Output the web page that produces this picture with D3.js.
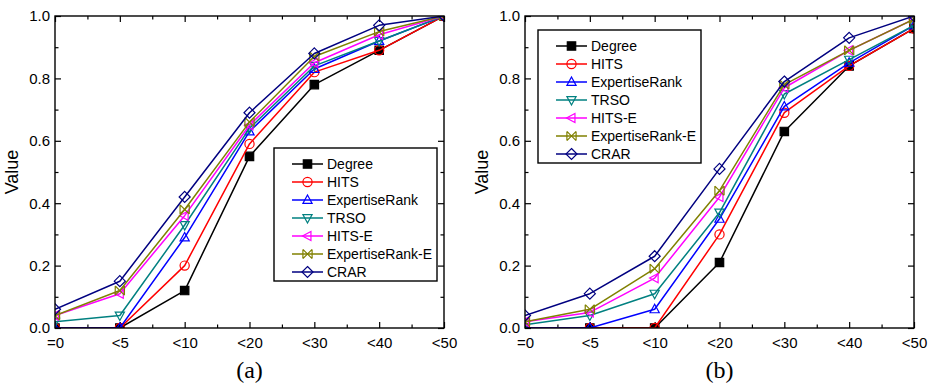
<!DOCTYPE html>
<html>
<head>
<meta charset="utf-8">
<script src="https://cdn.jsdelivr.net/npm/d3@7"></script>
<style>
  html, body { margin: 0; padding: 0; background: #fff; }
  svg { display: block; }
</style>
</head>
<body>
<svg id="chart" width="934" height="385"></svg>
<script>
// ---------- DATA ----------
const categories = ["=0", "<5", "<10", "<20", "<30", "<40", "<50"];
const seriesNames = ["Degree", "HITS", "ExpertiseRank", "TRSO", "HITS-E", "ExpertiseRank-E", "CRAR"];
const seriesColors = ["#000000", "#ff0000", "#0000ff", "#008080", "#ff00ff", "#808000", "#000080"];
const seriesSymbols = ["square", "circle", "triUp", "triDown", "triLeft", "xstar", "diamond"];
const yTicks = [0, 0.2, 0.4, 0.6, 0.8, 1.0];
const panelLabels = ["(a)", "(b)"];

// panel (a)
const aDegree        = [0.00, 0.00, 0.12, 0.55, 0.78, 0.89, 1.00];
const aHITS          = [0.00, 0.00, 0.20, 0.59, 0.82, 0.89, 1.00];
const aExpertiseRank = [0.00, 0.00, 0.29, 0.63, 0.83, 0.92, 1.00];
const aTRSO          = [0.02, 0.04, 0.33, 0.64, 0.84, 0.92, 1.00];
const aHITSE         = [0.04, 0.11, 0.36, 0.65, 0.85, 0.94, 1.00];
const aExpertiseRankE= [0.04, 0.12, 0.38, 0.66, 0.87, 0.95, 1.00];
const aCRAR          = [0.06, 0.15, 0.42, 0.69, 0.88, 0.97, 1.00];

// panel (b)
const bDegree        = [0.00, 0.00, 0.00, 0.21, 0.63, 0.84, 0.96];
const bHITS          = [0.00, 0.00, 0.00, 0.30, 0.69, 0.84, 0.96];
const bExpertiseRank = [0.00, 0.00, 0.06, 0.35, 0.71, 0.85, 0.97];
const bTRSO          = [0.01, 0.04, 0.11, 0.37, 0.75, 0.86, 0.97];
const bHITSE         = [0.02, 0.05, 0.16, 0.42, 0.77, 0.89, 0.99];
const bExpertiseRankE= [0.02, 0.06, 0.19, 0.44, 0.78, 0.89, 0.99];
const bCRAR          = [0.04, 0.11, 0.23, 0.51, 0.79, 0.93, 1.00];

const panelData = [
  [aDegree, aHITS, aExpertiseRank, aTRSO, aHITSE, aExpertiseRankE, aCRAR],
  [bDegree, bHITS, bExpertiseRank, bTRSO, bHITSE, bExpertiseRankE, bCRAR]
];

// ---------- LAYOUT ----------
const panels = [
  { left: 55, right: 444, top: 16, bottom: 328, legend: { x: 274, y: 148, w: 163, h: 133 } },
  { left: 525, right: 914, top: 16, bottom: 328, legend: { x: 538, y: 30, w: 163, h: 133 } }
];

const svg = d3.select("#chart");
const FONT = "Arial, 'Liberation Sans', sans-serif";

function symbolPath(type, r) {
  const p = d3.path();
  switch (type) {
    case "square":
      p.rect(-r, -r, 2 * r, 2 * r); break;
    case "circle":
      p.moveTo(r, 0); p.arc(0, 0, r, 0, 2 * Math.PI); break;
    case "triUp":
      p.moveTo(0, -r * 1.1); p.lineTo(r, r * 0.75); p.lineTo(-r, r * 0.75); p.closePath(); break;
    case "triDown":
      p.moveTo(0, r * 1.1); p.lineTo(r, -r * 0.75); p.lineTo(-r, -r * 0.75); p.closePath(); break;
    case "triLeft":
      p.moveTo(-r * 1.1, 0); p.lineTo(r * 0.75, -r); p.lineTo(r * 0.75, r); p.closePath(); break;
    case "xstar":
      p.moveTo(-r, -r); p.lineTo(r, r); p.moveTo(r, -r); p.lineTo(-r, r);
      p.moveTo(-r, -r); p.lineTo(-r, r); p.moveTo(r, -r); p.lineTo(r, r); break;
    case "diamond":
      p.moveTo(0, -r * 1.2); p.lineTo(r * 1.2, 0); p.lineTo(0, r * 1.2); p.lineTo(-r * 1.2, 0); p.closePath(); break;
  }
  return p.toString();
}

function drawMarker(g, type, color, x, y) {
  const r = 4.6;
  const filled = type === "square";
  g.append("path")
    .attr("transform", `translate(${x},${y})`)
    .attr("d", symbolPath(type, type === "square" ? 4.2 : r))
    .attr("fill", filled ? color : "none")
    .attr("stroke", color)
    .attr("stroke-width", 1.2);
}

panels.forEach((P, pi) => {
  const g = svg.append("g");
  const x = d3.scalePoint().domain(categories).range([P.left, P.right]).padding(0);
  const xi = d3.scaleLinear().domain([0, categories.length - 1]).range([P.left, P.right]);
  const y = d3.scaleLinear().domain([0, 1]).range([P.bottom, P.top]);

  const minorX = d3.range(0.5, categories.length - 1, 1);
  const minorY = d3.range(0.1, 1.0, 0.2);

  // clip
  const clipId = "clip" + pi;
  svg.append("defs").append("clipPath").attr("id", clipId)
    .append("rect").attr("x", P.left).attr("y", P.top)
    .attr("width", P.right - P.left).attr("height", P.bottom - P.top);

  const styleAxis = sel => {
    sel.select(".domain").remove();
    sel.selectAll(".tick line").attr("stroke", "#000").attr("stroke-width", 1.2);
    sel.selectAll("text").attr("font-family", FONT).attr("font-size", 15).attr("fill", "#000");
  };

  // bottom major
  g.append("g").attr("transform", `translate(0,${P.bottom})`)
    .call(d3.axisBottom(x).tickSizeInner(-6).tickSizeOuter(0).tickPadding(9))
    .call(styleAxis);
  // bottom minor
  g.append("g").attr("transform", `translate(0,${P.bottom})`)
    .call(d3.axisBottom(xi).tickValues(minorX).tickSizeInner(-3.5).tickSizeOuter(0).tickFormat(""))
    .call(styleAxis);
  // top major/minor
  g.append("g").attr("transform", `translate(0,${P.top})`)
    .call(d3.axisTop(x).tickSizeInner(-6).tickSizeOuter(0).tickFormat(""))
    .call(styleAxis);
  g.append("g").attr("transform", `translate(0,${P.top})`)
    .call(d3.axisTop(xi).tickValues(minorX).tickSizeInner(-3.5).tickSizeOuter(0).tickFormat(""))
    .call(styleAxis);
  // left
  g.append("g").attr("transform", `translate(${P.left},0)`)
    .call(d3.axisLeft(y).tickValues(yTicks).tickFormat(d3.format(".1f")).tickSizeInner(-6).tickSizeOuter(0).tickPadding(5))
    .call(styleAxis);
  g.append("g").attr("transform", `translate(${P.left},0)`)
    .call(d3.axisLeft(y).tickValues(minorY).tickSizeInner(-3.5).tickSizeOuter(0).tickFormat(""))
    .call(styleAxis);
  // right
  g.append("g").attr("transform", `translate(${P.right},0)`)
    .call(d3.axisRight(y).tickValues(yTicks).tickSizeInner(-6).tickSizeOuter(0).tickFormat(""))
    .call(styleAxis);
  g.append("g").attr("transform", `translate(${P.right},0)`)
    .call(d3.axisRight(y).tickValues(minorY).tickSizeInner(-3.5).tickSizeOuter(0).tickFormat(""))
    .call(styleAxis);

  // series
  const plot = g.append("g").attr("clip-path", `url(#${clipId})`);
  const line = d3.line().x((d, i) => x(categories[i])).y(d => y(d));
  panelData[pi].forEach((vals, si) => {
    plot.append("path").datum(vals)
      .attr("d", line).attr("fill", "none")
      .attr("stroke", seriesColors[si]).attr("stroke-width", 1.5)
      .attr("stroke-linejoin", "round");
    vals.forEach((v, i) => drawMarker(plot, seriesSymbols[si], seriesColors[si], x(categories[i]), y(v)));
  });

  // frame
  g.append("rect").attr("x", P.left).attr("y", P.top)
    .attr("width", P.right - P.left).attr("height", P.bottom - P.top)
    .attr("fill", "none").attr("stroke", "#000").attr("stroke-width", 1.4);

  // y label
  g.append("text")
    .attr("transform", `translate(${P.left - 43},${(P.top + P.bottom) / 2}) rotate(-90)`)
    .attr("text-anchor", "middle").attr("dy", "0.35em")
    .attr("font-family", FONT).attr("font-size", 18).text("Value");

  // panel label
  g.append("text")
    .attr("x", (P.left + P.right) / 2).attr("y", 378)
    .attr("text-anchor", "middle")
    .attr("font-family", "'Liberation Serif', 'Times New Roman', serif")
    .attr("font-size", 24).text(panelLabels[pi]);

  // legend
  const L = P.legend;
  const lg = g.append("g");
  lg.append("rect").attr("x", L.x).attr("y", L.y).attr("width", L.w).attr("height", L.h)
    .attr("fill", "#fff").attr("stroke", "#000").attr("stroke-width", 1.4);
  seriesNames.forEach((name, si) => {
    const ry = L.y + 16 + si * 18;
    lg.append("line").attr("x1", L.x + 18).attr("x2", L.x + 49)
      .attr("y1", ry).attr("y2", ry)
      .attr("stroke", seriesColors[si]).attr("stroke-width", 1.5);
    drawMarker(lg, seriesSymbols[si], seriesColors[si], L.x + 33.5, ry);
    lg.append("text").attr("x", L.x + 53).attr("y", ry).attr("dy", "0.36em")
      .attr("font-family", FONT).attr("font-size", 14).text(name);
  });
});
</script>
</body>
</html>
